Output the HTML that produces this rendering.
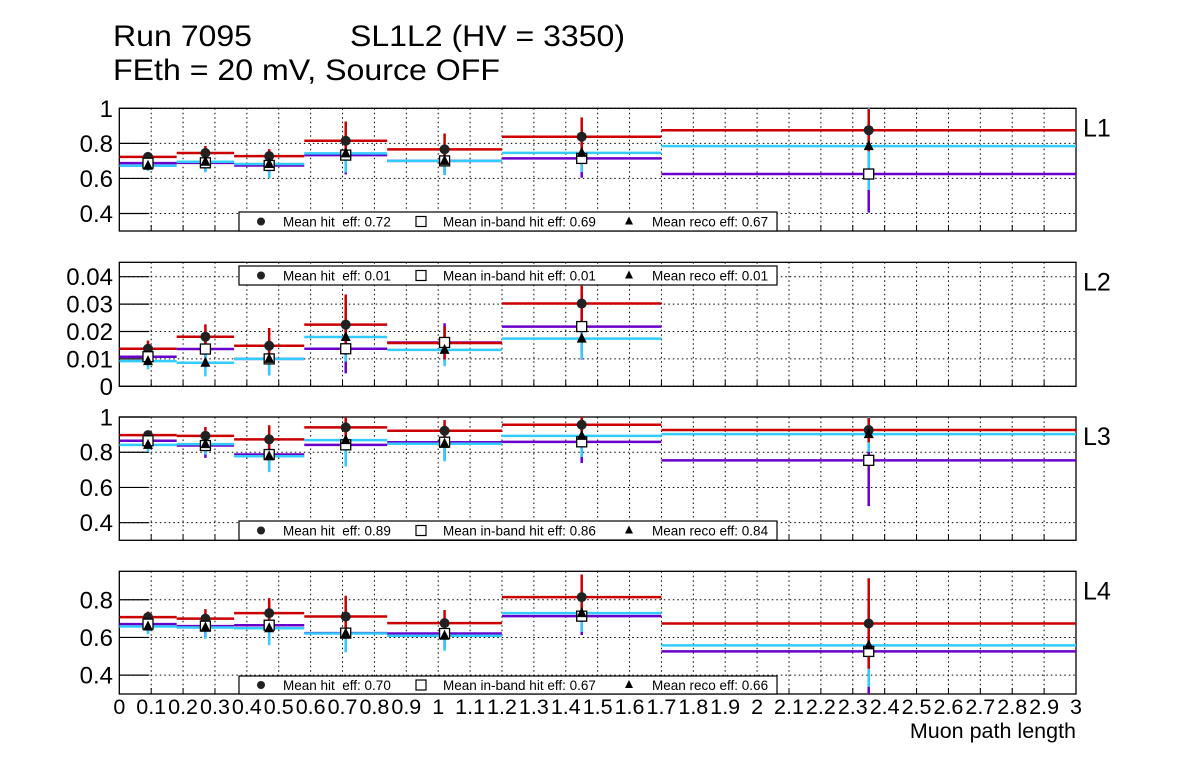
<!DOCTYPE html>
<html><head><meta charset="utf-8">
<style>
html,body{margin:0;padding:0;background:#fff;}
svg{display:block;font-family:"Liberation Sans",Arial,sans-serif;}
text{white-space:pre;}
</style></head>
<body>
<svg id="c" width="1196" height="772" viewBox="0 0 1196 772" xmlns="http://www.w3.org/2000/svg">
<text x="113" y="46" font-size="30" textLength="139" lengthAdjust="spacingAndGlyphs">Run 7095</text>
<text x="350" y="46" font-size="30" textLength="275" lengthAdjust="spacingAndGlyphs">SL1L2 (HV = 3350)</text>
<text x="113" y="80" font-size="30" textLength="387" lengthAdjust="spacingAndGlyphs">FEth = 20 mV, Source OFF</text>
<text x="1076" y="738" font-size="21.5" text-anchor="end">Muon path length</text>
</svg>
<script>
const binEdges = [0, 0.18, 0.36, 0.58, 0.84, 1.20, 1.70, 3.0];
const layerNames = ["L1","L2","L3","L4"];
// hit efficiency (red, circle)
const hitVals = [
 [0.723,0.745,0.727,0.815,0.766,0.838,0.875],
 [0.0137,0.0181,0.0148,0.0225,0.0158,0.0302,null],
 [0.897,0.893,0.873,0.941,0.922,0.956,0.926],
 [0.708,0.700,0.729,0.711,0.676,0.814,0.674]];
const hitErrs = [
 [0.02,0.04,0.04,0.11,0.09,0.11,0.12],
 [0.003,0.0045,0.0065,0.011,0.006,0.0065,0],
 [0.02,0.05,0.08,0.07,0.06,0.05,0.07],
 [0.03,0.05,0.08,0.11,0.07,0.12,0.24]];
// in-band hit efficiency (purple line, open square)
const inbandVals = [
 [0.687,0.689,0.674,0.733,0.700,0.714,0.625],
 [0.0108,0.0136,0.0100,0.0137,0.0160,0.0218,null],
 [0.865,0.838,0.787,0.842,0.857,0.859,0.754],
 [0.671,0.660,0.665,0.623,0.621,0.713,0.526]];
const inbandErrs = [
 [0.03,0.05,0.06,0.11,0.08,0.11,0.22],
 [0.003,0.007,0.006,0.009,0.007,0.012,0],
 [0.03,0.07,0.09,0.12,0.1,0.12,0.26],
 [0.04,0.06,0.08,0.1,0.08,0.1,0.23]];
// reco efficiency (cyan line, triangle)
const recoVals = [
 [0.672,0.695,0.682,0.743,0.700,0.746,0.784],
 [0.0092,0.0086,0.0100,0.0180,0.0133,0.0174,null],
 [0.842,0.846,0.777,0.869,0.848,0.893,0.903],
 [0.658,0.653,0.649,0.621,0.609,0.729,0.558]];
const recoErrs = [
 [0.03,0.06,0.08,0.11,0.08,0.11,0.25],
 [0.003,0.005,0.006,0.009,0.006,0.0075,0],
 [0.04,0.06,0.09,0.15,0.1,0.12,0.1],
 [0.04,0.06,0.09,0.1,0.08,0.1,0.22]];
const legendHit = ["0.72","0.01","0.89","0.70"];
const legendInband = ["0.69","0.01","0.86","0.67"];
const legendReco = ["0.67","0.01","0.84","0.66"];
const yTicks = [[0.4,0.6,0.8,1],[0,0.01,0.02,0.03,0.04],[0.4,0.6,0.8,1],[0.4,0.6,0.8]];
const yTickLabels = [["0.4","0.6","0.8","1"],["0","0.01","0.02","0.03","0.04"],["0.4","0.6","0.8","1"],["0.4","0.6","0.8"]];
const yRanges = [[0.3,1.0],[0,0.04526],[0.3,1.0],[0.3,0.951]];
const xTickLabels = ["0","0.1","0.2","0.3","0.4","0.5","0.6","0.7","0.8","0.9","1","1.1","1.2","1.3","1.4","1.5","1.6","1.7","1.8","1.9","2","2.1","2.2","2.3","2.4","2.5","2.6","2.7","2.8","2.9","3"];

const frames = [[108.3,231],[262.3,386.3],[417,540.3],[571.3,694]];
const legendY = [[212,231],[266,285],[521,540],[676,694]];
const X0=119.3, X1=1076;
const NS="http://www.w3.org/2000/svg";
const svg=document.getElementById('c');
function mk(tag,attrs,parent){const e=document.createElementNS(NS,tag);for(const k in attrs)e.setAttribute(k,attrs[k]);(parent||svg).appendChild(e);return e;}
function xs(v){return X0+(v/3)*(X1-X0);}

for(let p=0;p<4;p++){
  const [top,bot]=frames[p];const [ymin,ymax]=yRanges[p];
  const ys=v=>bot-(v-ymin)/(ymax-ymin)*(bot-top);
  const g=mk('g',{});
  
  
  for(let i=1;i<30;i++){const x=xs(i*0.1);
    const l=mk('line',{x1:x,x2:x,y1:top,y2:bot,stroke:'#000','stroke-width':1,'stroke-dasharray':'1.5,3'},g);
    
    
    mk('line',{x1:x,x2:x,y1:bot,y2:bot-6,stroke:'#000','stroke-width':1},g);
  }
  yTicks[p].forEach((t,i)=>{const y=ys(t);
    const l=mk('line',{x1:X0,x2:X1,y1:y,y2:y,stroke:'#000','stroke-width':1,'stroke-dasharray':'1.5,3'},g);
    
    
    mk('line',{x1:X0,x2:X0+30,y1:y,y2:y,stroke:'#000','stroke-width':1.2},g);
    const tx=mk('text',{x:113,y:y+8.5,'font-size':24,'text-anchor':'end'},g);
    tx.textContent=yTickLabels[p][i];
    
    
  });
  const fr=mk('rect',{x:X0,y:top,width:X1-X0,height:bot-top,fill:'none',stroke:'#000','stroke-width':1.3},g);
  
  
  const lab=mk('text',{x:1083,y:top+28,'font-size':25},g);
  lab.textContent=layerNames[p];
  
  
  const clipId='clip'+p;
  const cp=mk('clipPath',{id:clipId},g);mk('rect',{x:X0,y:top,width:X1-X0,height:bot-top},cp);
  const dg=mk('g',{'clip-path':'url(#'+clipId+')'},g);
  const series=[[inbandVals,inbandErrs,'#6a00cc'],[recoVals,recoErrs,'#33ccff'],[hitVals,hitErrs,'#cc0000']];
  series.forEach(([vals,errs,col])=>{
    for(let b=0;b<7;b++){const v=vals[p][b];if(v===null)continue;
      const l=mk('line',{x1:xs(binEdges[b]),x2:xs(binEdges[b+1]),y1:ys(v),y2:ys(v),stroke:col,'stroke-width':2.5},dg);
      
      
    }
  });
  series.forEach(([vals,errs,col])=>{
    for(let b=0;b<7;b++){const v=vals[p][b];if(v===null)continue;
      const cx=xs((binEdges[b]+binEdges[b+1])/2),e=errs[p][b];
      const l=mk('line',{x1:cx,x2:cx,y1:ys(v+e),y2:ys(v-e),stroke:col,'stroke-width':2.5},dg);
      
      
    }
  });
  for(let b=0;b<7;b++){
    const cx=xs((binEdges[b]+binEdges[b+1])/2);
    if(hitVals[p][b]!==null){
      const c=mk('circle',{cx:cx,cy:ys(hitVals[p][b]),r:5,fill:'#222'},dg);
      
      
    }
    if(inbandVals[p][b]!==null){const y=ys(inbandVals[p][b]);
      const s=mk('rect',{x:cx-5,y:y-5,width:10,height:10,fill:'#fff',stroke:'#000','stroke-width':1.3},dg);
      
      
    }
    if(recoVals[p][b]!==null){const y=ys(recoVals[p][b]);
      const t=mk('polygon',{points:`${cx},${y-6} ${cx-5},${y+4} ${cx+5},${y+4}`,fill:'#000'},dg);
      
      
    }
  }
  const [ly0,ly1]=legendY[p];const lc=(ly0+ly1)/2;
  const lgg=mk('g',{},g);
  
  
  mk('rect',{x:239,y:ly0,width:538,height:ly1-ly0,fill:'#fff',stroke:'#000','stroke-width':1.2},lgg);
  mk('circle',{cx:261,cy:lc,r:4,fill:'#222'},lgg);
  mk('rect',{x:416,y:lc-5,width:10,height:10,fill:'#fff',stroke:'#000','stroke-width':1.2},lgg);
  mk('polygon',{points:`${629},${lc-5} ${625},${lc+3} ${633},${lc+3}`,fill:'#000'},lgg);
  const t1=mk('text',{x:283,y:lc+5,'font-size':13.5},lgg);t1.textContent='Mean hit  eff: '+legendHit[p];
  
  
  const t2=mk('text',{x:443,y:lc+5,'font-size':13.5},lgg);t2.textContent='Mean in-band hit eff: '+legendInband[p];
  
  
  const t3=mk('text',{x:652,y:lc+5,'font-size':13.5},lgg);t3.textContent='Mean reco eff: '+legendReco[p];
  
  
}
xTickLabels.forEach((s,i)=>{
  const t=mk('text',{x:xs(i*0.1),y:714,'font-size':21.5,'text-anchor':'middle'});
  t.textContent=s;
  
  
});
</script>
</body></html>
